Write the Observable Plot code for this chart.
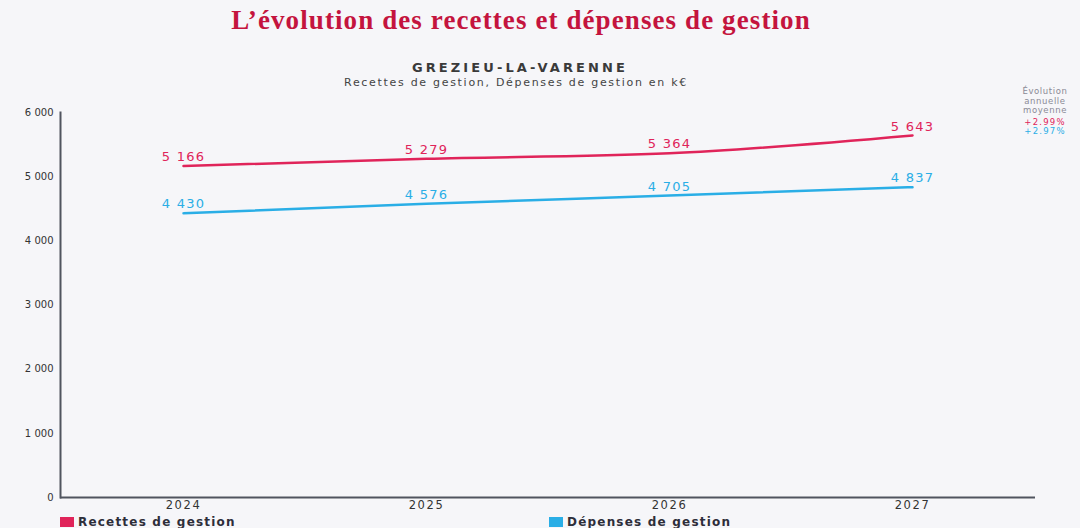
<!DOCTYPE html>
<html>
<head>
<meta charset="utf-8">
<script src="https://cdn.jsdelivr.net/npm/d3@7"></script>
<script src="https://cdn.jsdelivr.net/npm/@observablehq/plot@0.6"></script>
<style>
  html, body { margin: 0; padding: 0; background: #f6f6f9; }
  #wrap { position: relative; width: 1080px; height: 528px; overflow: hidden; background: #f6f6f9; }
  #chart { position: absolute; left: 0; top: 0; }
  .abs { position: absolute; white-space: nowrap; }
  #title { left: 0; width: 1042px; top: 5px; text-align: center; font-family: "Liberation Serif", serif; font-weight: bold; font-size: 27px; letter-spacing: 1.1px; color: #c4143e; }
  #sub1 { left: 0; width: 1040px; top: 60px; text-align: center; font-family: "DejaVu Sans", sans-serif; font-weight: bold; font-size: 13px; letter-spacing: 3.1px; color: #3a3a3a; }
  #sub2 { left: 0; width: 1032px; top: 76px; text-align: center; font-family: "DejaVu Sans", sans-serif; font-size: 11px; letter-spacing: 1.7px; color: #444; }
  #evo { left: 1005px; width: 80px; top: 87px; text-align: center; font-family: "DejaVu Sans", sans-serif; font-size: 8.5px; line-height: 9.5px; letter-spacing: 0.6px; color: #8a8a96; }
  .leg { top: 515px; font-family: "DejaVu Sans", sans-serif; font-weight: bold; font-size: 12px; letter-spacing: 1.2px; color: #2e2e3a; display: flex; align-items: center; }
  .sw { display: inline-block; width: 14px; height: 10px; margin-right: 4px; }
</style>
</head>
<body>
<div id="wrap">
  <div id="chart"></div>
  <div id="title" class="abs">L’évolution des recettes et dépenses de gestion</div>
  <div id="sub1" class="abs">GREZIEU-LA-VARENNE</div>
  <div id="sub2" class="abs">Recettes de gestion, Dépenses de gestion en k€</div>
  <div id="evo" class="abs"></div>
  <div id="leg1" class="abs leg" style="left:60px"></div>
  <div id="leg2" class="abs leg" style="left:549px"></div>
</div>
<script>
const years = ["2024", "2025", "2026", "2027"];
const recettes = [5166, 5279, 5364, 5643];
const depenses = [4430, 4576, 4705, 4837];
const seriesNames = ["Recettes de gestion", "Dépenses de gestion"];
const seriesColors = ["#e0245a", "#2aaee6"];
const yTicks = [0, 1000, 2000, 3000, 4000, 5000, 6000];
const evolutionLabel = ["Évolution", "annuelle", "moyenne"];
const evolutionRates = ["+2.99%", "+2.97%"];

const fmt = v => d3.format(",")(v).replace(/,/g, " ");

const data = [];
years.forEach((y, i) => {
  data.push({year: y, value: recettes[i], series: seriesNames[0]});
  data.push({year: y, value: depenses[i], series: seriesNames[1]});
});

const color = {domain: seriesNames, range: seriesColors};

const plot = Plot.plot({
  width: 1080,
  height: 528,
  marginTop: 112,
  marginBottom: 31,
  marginLeft: 60,
  marginRight: 45,
  style: {background: "transparent", fontFamily: "DejaVu Sans, sans-serif"},
  x: {type: "point", domain: years, padding: 0.5, label: null},
  y: {domain: [0, 6000], label: null},
  color,
  marks: [
    Plot.axisY({ticks: yTicks, tickFormat: fmt, tickSize: 0, tickPadding: 7, fontSize: 10, fill: "#333", label: null}),
    Plot.axisX({tickSize: 0, tickPadding: 3, fontSize: 11.5, fill: "#333", label: null}),
    Plot.frame({anchor: "left", stroke: "#50545f", strokeWidth: 2}),
    Plot.ruleY([0], {stroke: "#50545f", strokeWidth: 2}),
    Plot.line(data, {x: "year", y: "value", z: "series", stroke: "series", strokeWidth: 2.5, curve: "monotone-x"}),
    Plot.text(data, {x: "year", y: "value", text: d => fmt(d.value), fill: "series", dy: -9, fontSize: 13})
  ]
});
d3.select(plot).selectAll('g[aria-label="x-axis tick label"]').style("letter-spacing", "1.6px");
d3.select(plot).selectAll('g[aria-label="text"]').style("letter-spacing", "1.3px");
document.getElementById("chart").appendChild(plot);

const evo = document.getElementById("evo");
evolutionLabel.forEach(t => { const d = document.createElement("div"); d.textContent = t; evo.appendChild(d); });
evolutionRates.forEach((t, i) => {
  const d = document.createElement("div");
  d.textContent = t; d.style.color = seriesColors[i]; d.style.letterSpacing = "1.2px";
  if (i === 0) d.style.marginTop = "2px";
  evo.appendChild(d);
});

["leg1", "leg2"].forEach((id, i) => {
  const el = document.getElementById(id);
  const sw = document.createElement("span"); sw.className = "sw"; sw.style.background = seriesColors[i];
  el.appendChild(sw);
  el.appendChild(document.createTextNode(seriesNames[i]));
});
</script>
</body>
</html>
